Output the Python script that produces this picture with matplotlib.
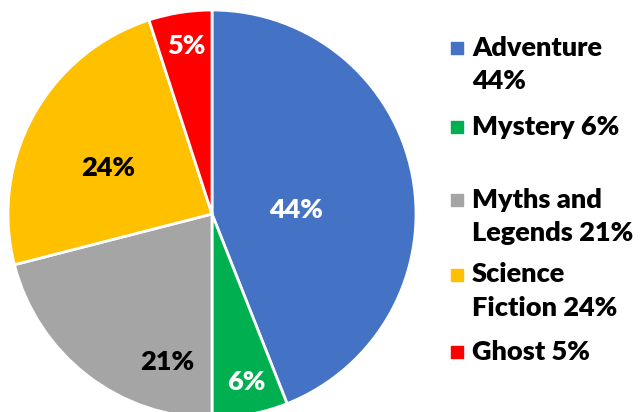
import numpy as np
import matplotlib.pyplot as plt

plt.rcParams['font.family'] = ['Lato', 'DejaVu Sans']

genres = ['Adventure', 'Mystery', 'Myths and Legends', 'Science Fiction', 'Ghost']
shares = [44, 6, 21, 24, 5]
colors = ['#4472C4', '#00B050', '#A5A5A5', '#FFC000', '#FF0000']
legend_text = ['Adventure\n44%', 'Mystery 6%', 'Myths and\nLegends 21%',
               'Science\nFiction 24%', 'Ghost 5%']
label_colors = ['white', 'white', 'black', 'black', 'white']

# layout in pixel coords (y measured from top)
label_pos = [(296, 210), (246, 382), (167, 362), (108, 168), (186, 46)]
legend_y = [64, 127, 216, 291, 352]

W, H = 641, 412
fig = plt.figure(figsize=(W / 100, H / 100), dpi=100)
ax = fig.add_axes([0, 0, 1, 1])

cx, cy, r = 212, 214, 204
ax.pie(shares, colors=colors, startangle=90, counterclock=False,
       center=(cx, H - cy), radius=r, frame=True,
       wedgeprops=dict(edgecolor='white', linewidth=2))
ax.set_xlim(0, W)
ax.set_ylim(0, H)
ax.set_aspect('equal')
ax.axis('off')

for v, (x, y), c in zip(shares, label_pos, label_colors):
    ax.text(x, H - y, f'{v}%', color=c, fontsize=19.5, fontweight='heavy',
            ha='center', va='center')

for txt, y, c in zip(legend_text, legend_y, colors):
    first_line = y - (16 if '\n' in txt else 0)
    ax.scatter([457], [H - first_line], marker='s', s=70, color=c)
    ax.text(472, H - y, txt, fontsize=19.5, fontweight='heavy', ha='left',
            va='center', linespacing=1.45)

fig.savefig('out.png', dpi=100)
